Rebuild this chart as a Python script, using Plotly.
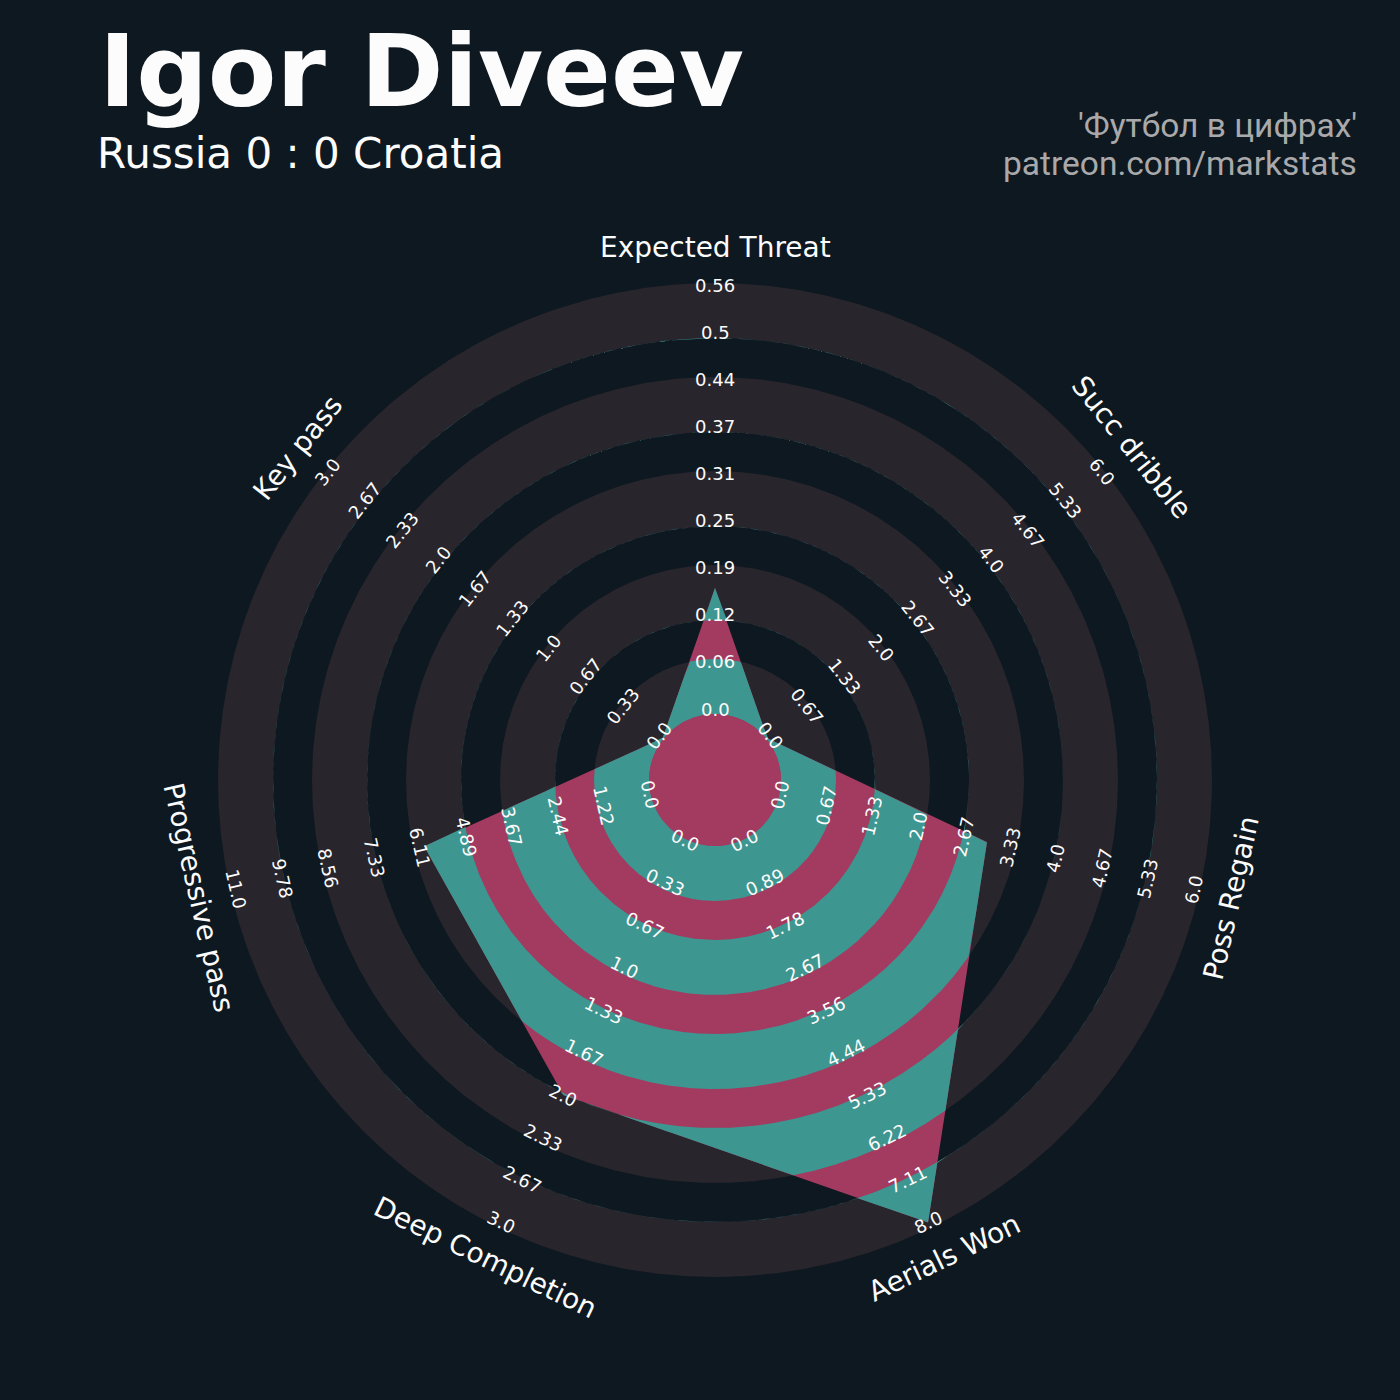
import numpy as np
import plotly.graph_objects as go

# ---------------- data ----------------
params = ["Expected Threat", "Succ dribble", "Poss Regain", "Aerials Won",
          "Deep Completion", "Progressive pass", "Key pass"]
values = [0.165, 0.0, 3.0, 8.0, 2.0, 6.0, 0.0]
low = [0.0, 0.0, 0.0, 0.0, 0.0, 0.0, 0.0]
high = [0.56, 6.0, 6.0, 8.0, 3.0, 11.0, 3.0]
tick_labels = [
    ["0.0", "0.06", "0.12", "0.19", "0.25", "0.31", "0.37", "0.44", "0.5", "0.56"],
    ["0.0", "0.67", "1.33", "2.0", "2.67", "3.33", "4.0", "4.67", "5.33", "6.0"],
    ["0.0", "0.67", "1.33", "2.0", "2.67", "3.33", "4.0", "4.67", "5.33", "6.0"],
    ["0.0", "0.89", "1.78", "2.67", "3.56", "4.44", "5.33", "6.22", "7.11", "8.0"],
    ["0.0", "0.33", "0.67", "1.0", "1.33", "1.67", "2.0", "2.33", "2.67", "3.0"],
    ["0.0", "1.22", "2.44", "3.67", "4.89", "6.11", "7.33", "8.56", "9.78", "11.0"],
    ["0.0", "0.33", "0.67", "1.0", "1.33", "1.67", "2.0", "2.33", "2.67", "3.0"],
]
title = "Igor Diveev"
subtitle = "Russia 0 : 0 Croatia"
credits = ["'Футбол в цифрах'", "patreon.com/markstats"]

# ---------------- style / geometry ----------------
BG = "#0e1820"
RING = "#28252c"
TEAL = "#3e9690"
PINK = "#a33a60"
TXT = "#fcfcfc"
FONT = "DejaVu Sans"

R_CENTER = 66.0
DARK_W = 55.0
GAP_W = 39.0
N_RINGS = 5
R_VAL0 = 67.0
R_VAL1 = 491.0
R_PARAM = 532.0

n = len(params)
theta = np.deg2rad(90.0 - np.arange(n) * 360.0 / n)


def val_to_r(v, lo, hi):
    return R_VAL0 + (v - lo) / (hi - lo) * (R_VAL1 - R_VAL0)


radii = np.array([val_to_r(v, lo, hi) for v, lo, hi in zip(values, low, high)])
vx = radii * np.cos(theta)
vy = radii * np.sin(theta)

fig = go.Figure()

# rings (annuli)
t_circ = np.linspace(0, 2 * np.pi, 721)
ring_bounds = []
for k in range(N_RINGS):
    a = R_CENTER + k * (DARK_W + GAP_W)
    b = a + DARK_W
    ring_bounds.append((a, b))
    xs = np.concatenate([b * np.cos(t_circ), a * np.cos(t_circ[::-1])])
    ys = np.concatenate([b * np.sin(t_circ), a * np.sin(t_circ[::-1])])
    fig.add_trace(go.Scatter(x=xs, y=ys, mode="lines", fill="toself",
                             fillcolor=RING, line=dict(width=0, color=RING),
                             hoverinfo="skip", showlegend=False))

# radar polygon
fig.add_trace(go.Scatter(x=np.append(vx, vx[0]), y=np.append(vy, vy[0]),
                         mode="lines", fill="toself", fillcolor=PINK,
                         line=dict(width=0, color=PINK),
                         hoverinfo="skip", showlegend=False))

# dense sampling of polygon boundary
px_, py_ = [], []
for i in range(n):
    j = (i + 1) % n
    s = np.linspace(0, 1, 800, endpoint=False)
    px_.append(vx[i] + (vx[j] - vx[i]) * s)
    py_.append(vy[i] + (vy[j] - vy[i]) * s)
px_ = np.concatenate(px_ + [[vx[0]]])
py_ = np.concatenate(py_ + [[vy[0]]])
pr = np.hypot(px_, py_)
pt = np.arctan2(py_, px_)

# polygon ∩ rings
for a, b in ring_bounds:
    o = np.clip(pr, a, b)
    xs = np.concatenate([o * np.cos(pt), a * np.cos(pt[::-1])])
    ys = np.concatenate([o * np.sin(pt), a * np.sin(pt[::-1])])
    fig.add_trace(go.Scatter(x=xs, y=ys, mode="lines", fill="toself",
                             fillcolor=TEAL, line=dict(width=0, color=TEAL),
                             hoverinfo="skip", showlegend=False))

# center circle
fig.add_trace(go.Scatter(x=R_CENTER * np.cos(t_circ), y=R_CENTER * np.sin(t_circ),
                         mode="lines", fill="toself", fillcolor=PINK,
                         line=dict(width=0, color=PINK),
                         hoverinfo="skip", showlegend=False))

annotations = []
for i in range(n):
    deg = np.rad2deg(theta[i])
    rot = (deg % 180.0) - 90.0
    shift = 4.0 if np.sin(theta[i]) > 0.01 else 0.0
    labs = tick_labels[i]
    m = len(labs)
    for k, lab in enumerate(labs):
        r = R_VAL0 + k * (R_VAL1 - R_VAL0) / (m - 1) + shift
        annotations.append(dict(x=r * np.cos(theta[i]), y=r * np.sin(theta[i]),
                                xref="x", yref="y", text=lab, showarrow=False,
                                textangle=-rot, xanchor="center", yanchor="middle",
                                font=dict(family=FONT, size=18, color=TXT)))
    rp = R_PARAM + (1.0 if np.sin(theta[i]) > 0.01 else -2.0)
    annotations.append(dict(x=rp * np.cos(theta[i]), y=rp * np.sin(theta[i]),
                            xref="x", yref="y", text=params[i], showarrow=False,
                            textangle=-rot, xanchor="center", yanchor="middle",
                            font=dict(family=FONT, size=28, color=TXT)))

annotations.append(dict(x=98 / 1400, y=1 - 72 / 1400, xref="paper", yref="paper",
                        text=title, showarrow=False, xanchor="left", yanchor="middle",
                        borderpad=0,
                        font=dict(family=FONT, size=100, color=TXT, weight="bold")))
annotations.append(dict(x=96 / 1400, y=1 - 154 / 1400, xref="paper", yref="paper",
                        text=subtitle, showarrow=False, xanchor="left", yanchor="middle",
                        borderpad=0,
                        font=dict(family=FONT, size=42, color=TXT)))
annotations.append(dict(x=1359 / 1400, y=1 - 126 / 1400, xref="paper", yref="paper",
                        text=credits[0], showarrow=False, xanchor="right", yanchor="middle",
                        font=dict(family="Roboto", size=33.5, color="#a9a9ab")))
annotations.append(dict(x=1359 / 1400, y=1 - 163 / 1400, xref="paper", yref="paper",
                        text=credits[1], showarrow=False, xanchor="right", yanchor="middle",
                        font=dict(family="Roboto", size=33.5, color="#a9a9ab")))

fig.update_layout(
    width=1400, height=1400, autosize=False,
    paper_bgcolor=BG, plot_bgcolor=BG,
    margin=dict(l=0, r=0, t=0, b=0),
    xaxis=dict(range=[-715, 685], visible=False, showgrid=False, zeroline=False),
    yaxis=dict(range=[-620, 780], visible=False, showgrid=False, zeroline=False,
               scaleanchor="x", scaleratio=1),
    annotations=annotations,
    showlegend=False,
)

fig.write_html("out.html",
               config={"displayModeBar": False},
               post_script="document.body.style.margin='0';"
                           "document.body.style.background='" + BG + "';")
